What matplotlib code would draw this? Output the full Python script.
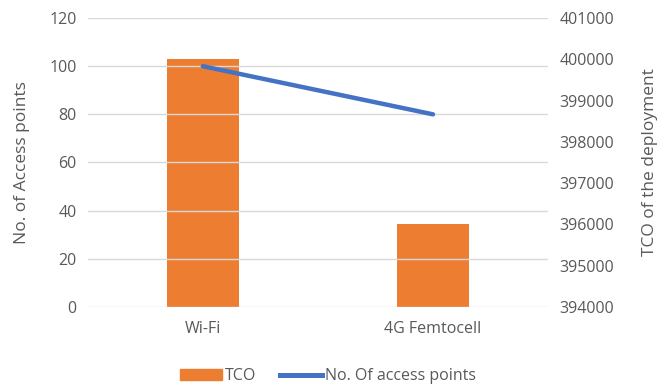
import matplotlib.pyplot as plt
from matplotlib.lines import Line2D
from matplotlib.patches import Patch

plt.rcParams['font.family'] = ['Open Sans', 'DejaVu Sans']

categories = ['Wi-Fi', '4G Femtocell']
tco = [400000, 396000]
access_points = [100, 80]
left_ticks = [0, 20, 40, 60, 80, 100, 120]
right_ticks = [394000, 395000, 396000, 397000, 398000, 399000, 400000, 401000]

grey = '#595959'
fig = plt.figure(figsize=(6.7, 3.85), dpi=100)
ax = fig.add_axes([0.131, 0.203, 0.687, 0.750])
ax2 = ax.twinx()

x = range(len(categories))
# bars on the right axis (TCO), line on the left axis (access points)
ax2.bar(x, tco, width=0.31, color='#ED7D31', zorder=2)
ax.plot(x, access_points, color='#4472C4', linewidth=3.2, solid_capstyle='round', zorder=3)

ax.set_ylim(0, 120)
ax.set_yticks(left_ticks)
ax2.set_ylim(394000, 401000)
ax2.set_yticks(right_ticks)
ax.set_xlim(-0.5, 1.5)
ax.set_xticks(list(x))
ax.set_xticklabels(categories)

ax.grid(axis='y', color='#D9D9D9', linewidth=1)
ax.set_axisbelow(True)
ax.set_zorder(ax2.get_zorder() + 1)
ax.patch.set_visible(False)

for a in (ax, ax2):
    for s in a.spines.values():
        s.set_visible(False)
    a.tick_params(length=0, labelsize=11.5, colors=grey, pad=8)

ax.tick_params(axis='x', pad=10)
ax.set_ylabel('No. of Access points', fontsize=12.5, color=grey, labelpad=14)
ax2.set_ylabel('TCO of the deployment', fontsize=12.5, color=grey, labelpad=20)

handles = [Patch(color='#ED7D31'), Line2D([0], [0], color='#4472C4', linewidth=3.6)]
fig.legend(handles, ['TCO', 'No. Of access points'], loc='lower center',
           bbox_to_anchor=(0.49, -0.035), ncol=2, frameon=False, fontsize=11.5,
           labelcolor=grey, handlelength=2.6, handletextpad=0.2, columnspacing=1.5)

fig.savefig('out.png', dpi=100)
